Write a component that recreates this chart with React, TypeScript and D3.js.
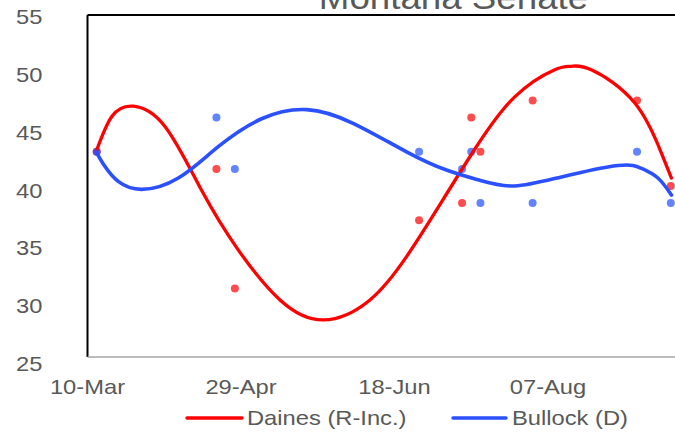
import React from "react";
import * as d3 from "d3";

const title = "Montana Senate";
const seriesNames = ["Daines (R-Inc.)", "Bullock (D)"];
const yTicks = [25, 30, 35, 40, 45, 50, 55];
const xDomain = ["2020-03-10", "2020-09-26"];
const xTickDates = ["2020-03-10", "2020-04-29", "2020-06-18", "2020-08-07"];

// poll results (dots)
const pollDatesDaines = ["2020-03-13", "2020-04-21", "2020-04-27", "2020-06-26", "2020-07-10", "2020-07-13", "2020-07-16", "2020-08-02", "2020-09-05", "2020-09-16"];
const pollDaines = [43, 41.5, 31, 37, 38.5, 46, 43, 47.5, 47.5, 40];
const pollDatesBullock = ["2020-03-13", "2020-04-21", "2020-04-27", "2020-06-26", "2020-07-10", "2020-07-13", "2020-07-16", "2020-08-02", "2020-09-05", "2020-09-16"];
const pollBullock = [43, 46, 41.5, 43, 41.5, 43, 38.5, 38.5, 43, 38.5];

// trendline samples
const trendDatesDaines = ["2020-03-12 19", "2020-03-17 22", "2020-03-24 22", "2020-04-04 07", "2020-04-16 05", "2020-04-28 02", "2020-05-11 17", "2020-05-25 19", "2020-06-10 00", "2020-06-21 22", "2020-07-01 17", "2020-07-14 02", "2020-07-27 02", "2020-08-09 05", "2020-08-14 14", "2020-08-21 02", "2020-09-04 05", "2020-09-12 22", "2020-09-16 05"];
const trendDaines = [43.0, 46.1, 47.0, 45.2, 39.6, 34.4, 30.0, 28.25, 30.0, 33.8, 37.9, 43.2, 47.8, 50.2, 50.5, 50.2, 47.3, 42.9, 40.7];
const trendDatesBullock = ["2020-03-12 19", "2020-03-15 17", "2020-03-20 00", "2020-03-27 14", "2020-04-08 14", "2020-04-21 14", "2020-05-05 17", "2020-05-20 10", "2020-06-04 12", "2020-06-21 22", "2020-07-04 22", "2020-07-15 19", "2020-07-27 02", "2020-08-11 10", "2020-08-29 19", "2020-09-06 10", "2020-09-11 19", "2020-09-16 05"];
const trendBullock = [43.0, 41.7, 40.4, 39.7, 40.7, 43.45, 45.9, 46.7, 45.5, 43.0, 41.4, 40.5, 40.0, 40.8, 41.8, 41.55, 40.7, 39.2];

const W = 675;
const H = 434;
const parse = d3.timeParse("%Y-%m-%d");
const parseH = d3.timeParse("%Y-%m-%d %H");
const fmt = d3.timeFormat("%d-%b");
const TEXT = "#595959";
const FONT = "Liberation Sans, Arial, sans-serif";
const SX = 1.13;

export default function App() {
  const x = d3
    .scaleTime()
    .domain([parse(xDomain[0])!, parse(xDomain[1])!])
    .range([87.5, 701.5]);
  const y = d3.scaleLinear().domain([25, 55]).range([357, 15]);
  const yLabel = d3.scaleLinear().domain([25, 55]).range([371, 24]);

  const line = d3
    .line<[Date, number]>()
    .x((d) => x(d[0]))
    .y((d) => y(d[1]))
    .curve(d3.curveNatural);

  const redTrend = trendDatesDaines.map((d, i) => [parseH(d)!, trendDaines[i]] as [Date, number]);
  const blueTrend = trendDatesBullock.map((d, i) => [parseH(d)!, trendBullock[i]] as [Date, number]);

  const RED = "#ff0000";
  const BLUE = "#2a50ff";
  const x0 = x.range()[0];

  return (
    <svg width={W} height={H} style={{ display: "block", position: "absolute", left: 0, top: 0 }} fontFamily={FONT}>
      <rect width={W} height={H} fill="#fff" />
      <text transform={`translate(453.5,8.5) scale(${SX},1)`} textAnchor="middle" fontSize={32.5} fill={TEXT}>
        {title}
      </text>
      {/* plot frame */}
      <line x1={x0} x2={W} y1={y(55)} y2={y(55)} stroke="#000" strokeWidth={2} />
      <line x1={x0} x2={x0} y1={y(55)} y2={y(25)} stroke="#000" strokeWidth={2} />
      <line x1={x0} x2={W} y1={y(25)} y2={y(25)} stroke="#a6a6a6" strokeWidth={1.5} />
      {yTicks.map((t) => (
        <text key={t} transform={`translate(42.5,${yLabel(t)}) scale(${SX},1)`} textAnchor="end" fontSize={21} fill={TEXT}>
          {t}
        </text>
      ))}
      {xTickDates.map((d) => (
        <text key={d} transform={`translate(${x(parse(d)!)},394) scale(${SX},1)`} textAnchor="middle" fontSize={21} fill={TEXT}>
          {fmt(parse(d)!)}
        </text>
      ))}
      {pollDatesDaines.map((d, i) => (
        <circle key={"r" + i} cx={x(parse(d)!)} cy={y(pollDaines[i])} r={4} fill={RED} fillOpacity={0.7} />
      ))}
      {pollDatesBullock.map((d, i) => (
        <circle key={"b" + i} cx={x(parse(d)!)} cy={y(pollBullock[i])} r={4} fill="#2050ff" fillOpacity={0.7} />
      ))}
      <path d={line(redTrend) || ""} fill="none" stroke={RED} strokeWidth={3.3} strokeLinecap="round" />
      <path d={line(blueTrend) || ""} fill="none" stroke={BLUE} strokeWidth={3.6} strokeLinecap="round" />
      {/* legend */}
      <line x1={187} x2={242} y1={418} y2={418} stroke={RED} strokeWidth={3.5} strokeLinecap="round" />
      <text transform={`translate(247,424.5) scale(${SX},1)`} fontSize={21} fill={TEXT}>
        {seriesNames[0]}
      </text>
      <line x1={453} x2={506} y1={418} y2={418} stroke={BLUE} strokeWidth={3.5} strokeLinecap="round" />
      <text transform={`translate(512,424.5) scale(${SX},1)`} fontSize={21} fill={TEXT}>
        {seriesNames[1]}
      </text>
    </svg>
  );
}
